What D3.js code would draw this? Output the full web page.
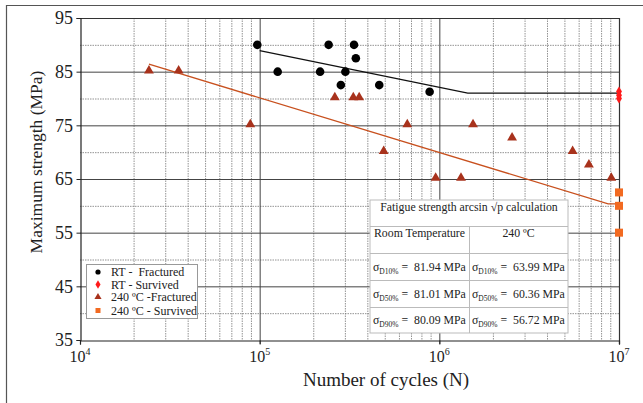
<!DOCTYPE html>
<html>
<head>
<meta charset="utf-8">
<script src="https://cdn.jsdelivr.net/npm/d3@7"></script>
<style>
  body { margin: 0; background: #fff; }
</style>
</head>
<body>
<div id="chart"></div>
<script>
// data
var rtFracN = [9.7e4, 2.42e5, 3.35e5, 3.43e5, 1.26e5, 2.17e5, 3.0e5, 2.83e5, 4.63e5, 8.83e5];
var rtFracS = [90, 90, 90, 87.5, 85, 85, 85, 82.5, 82.5, 81.25];
var rtSurvN = [1e7, 1e7, 1e7];
var rtSurvS = [81.3, 80.6, 80.0];
var htFracN = [2.42e4, 3.54e4, 8.87e4, 2.62e5, 3.32e5, 3.58e5, 6.63e5, 1.54e6, 2.54e6, 4.9e5, 5.52e6, 6.8e6, 9.54e5, 1.32e6, 9.06e6];
var htFracS = [85, 85, 75, 80, 80, 80, 75, 75, 72.5, 70, 70, 67.5, 65, 65, 65];
var htSurvN = [1e7, 1e7, 1e7];
var htSurvS = [62.5, 60, 55];

var rtFitN = [1e5, 1.44e6, 1e7];
var rtFitS = [88.9, 81.01, 81.01];
var htFitN = [2.42e4, 8.7e6, 1e7];
var htFitS = [86.4, 60.36, 60.36];

var yTicks = [35, 45, 55, 65, 75, 85, 95];
var yMinor = [40, 50, 60, 70, 80, 90];
var xDecades = [1e4, 1e5, 1e6, 1e7];
var xExp = ["4", "5", "6", "7"];

var legendLabels = ["RT -  Fractured", "RT - Survived", "240 \u00BAC -Fractured", "240 \u00BAC - Survived"];

var tableTitle = "Fatigue strength arcsin \u221Ap calculation";
var tableHeads = ["Room Temperature", "240 \u00BAC"];
var tableSubs = ["D10%", "D50%", "D90%"];
var tableRT = ["81.94", "81.01", "80.09"];
var tableHT = ["63.99", "60.36", "56.72"];

var W = 643, H = 403;
var serif = "Liberation Serif";
var ink = "#222";
var svg = d3.select("#chart").append("svg")
    .attr("width", W)
    .attr("height", H);

var x = d3.scaleLog().domain([1e4, 1e7]).range([80, 619]);
var y = d3.scaleLinear().domain([35, 95]).range([340, 18]);

// figure frame (top and left only)
svg.append("line").attr("x1", 6).attr("x2", W).attr("y1", 5.5).attr("y2", 5.5)
    .attr("stroke", "#555").attr("stroke-width", 1.2);
svg.append("line").attr("x1", 6.5).attr("x2", 6.5).attr("y1", 5).attr("y2", H)
    .attr("stroke", "#555").attr("stroke-width", 1.2);

var g = svg.append("g");

// minor vertical grid
var minorX = [];
[1e4, 1e5, 1e6].forEach(function(d) {
  for (var k = 2; k <= 9; k++) minorX.push(d * k);
});
g.selectAll(".vminor")
    .data(minorX)
  .enter().append("line")
    .attr("x1", function(d) { return x(d); })
    .attr("x2", function(d) { return x(d); })
    .attr("y1", y(95)).attr("y2", y(35))
    .attr("stroke", "#777")
    .attr("stroke-dasharray", "1.5,1")
    .attr("stroke-width", 0.8);

// dotted horizontal grid
g.selectAll(".hminor")
    .data(yMinor)
  .enter().append("line")
    .attr("x1", x(1e4)).attr("x2", x(1e7))
    .attr("y1", function(d) { return y(d) + 0.5; })
    .attr("y2", function(d) { return y(d) + 0.5; })
    .attr("stroke", "#777")
    .attr("stroke-dasharray", "1.5,1")
    .attr("stroke-width", 0.8);

// solid horizontal grid
g.selectAll(".hmajor")
    .data(yTicks.slice(1, 6))
  .enter().append("line")
    .attr("x1", x(1e4)).attr("x2", x(1e7))
    .attr("y1", function(d) { return y(d) + 0.5; })
    .attr("y2", function(d) { return y(d) + 0.5; })
    .attr("stroke", "#444")
    .attr("stroke-width", 1);

// solid vertical decades
g.selectAll(".vmajor")
    .data([1e5, 1e6])
  .enter().append("line")
    .attr("x1", function(d) { return x(d) + 0.5; })
    .attr("x2", function(d) { return x(d) + 0.5; })
    .attr("y1", y(95)).attr("y2", y(35) + 4)
    .attr("stroke", "#444")
    .attr("stroke-width", 1);

// plot frame
g.append("line").attr("x1", x(1e4)).attr("x2", x(1e7)).attr("y1", y(95) + 0.5).attr("y2", y(95) + 0.5)
    .attr("stroke", "#333").attr("stroke-width", 1.2);
g.append("line").attr("x1", x(1e7) + 0.5).attr("x2", x(1e7) + 0.5).attr("y1", y(95)).attr("y2", y(35) + 4)
    .attr("stroke", "#333").attr("stroke-width", 1.2);

// axes
var yAxis = d3.axisLeft(y).tickValues(yTicks).tickSize(4).tickFormat("");
g.append("g").attr("transform", "translate(" + (x(1e4) + 0.5) + ",0)").call(yAxis)
    .call(function(a) { a.select(".domain").attr("stroke", "#222").attr("stroke-width", 1.2); })
    .selectAll("line").attr("stroke", "#222");

var xAxis = d3.axisBottom(x).tickValues(xDecades).tickSize(4).tickFormat("");
g.append("g").attr("transform", "translate(0," + (y(35) + 0.5) + ")").call(xAxis)
    .call(function(a) { a.select(".domain").attr("stroke", "#222").attr("stroke-width", 1.2); })
    .selectAll("line").attr("stroke", "#222");

// y tick labels
g.selectAll(".ylab")
    .data(yTicks)
  .enter().append("text")
    .attr("font-family", serif).attr("fill", ink)
    .attr("x", 73)
    .attr("y", function(d) { return y(d); })
    .attr("dy", "0.35em")
    .attr("text-anchor", "end")
    .attr("font-size", "18px")
    .text(function(d) { return d; });

// x tick labels 10^n
var xl = g.selectAll(".xlab")
    .data(xDecades)
  .enter().append("text")
    .attr("font-family", serif).attr("fill", ink)
    .attr("x", function(d) { return x(d); })
    .attr("y", 362)
    .attr("text-anchor", "middle")
    .attr("font-size", "16px");
xl.append("tspan").text("10");
xl.append("tspan").attr("dy", -7).attr("font-size", "10px").text(function(d, i) { return xExp[i]; });

// axis titles
svg.append("text")
    .attr("font-family", serif).attr("fill", ink)
    .attr("transform", "translate(42,162) rotate(-90)")
    .attr("text-anchor", "middle")
    .attr("font-size", "17.5px")
    .text("Maximum strength (MPa)");
svg.append("text")
    .attr("font-family", serif).attr("fill", ink)
    .attr("x", 386).attr("y", 386)
    .attr("text-anchor", "middle")
    .attr("font-size", "19px")
    .text("Number of cycles (N)");

// fit lines
var line = d3.line()
    .x(function(d) { return x(d[0]); })
    .y(function(d) { return y(d[1]); });
g.append("path")
    .datum(d3.zip(rtFitN, rtFitS))
    .attr("d", line)
    .attr("fill", "none")
    .attr("stroke", "#111")
    .attr("stroke-width", 1.3);
g.append("path")
    .datum(d3.zip(htFitN, htFitS))
    .attr("d", line)
    .attr("fill", "none")
    .attr("stroke", "#c8501e")
    .attr("stroke-width", 1.3);

// table
var tx = 370, tw = 198, tcol = 469;
var rowY = [200, 226, 253, 280, 307, 333];
var tfs = "11.8px";
var tab = svg.append("g");
tab.append("rect")
    .attr("x", tx).attr("y", rowY[0])
    .attr("width", tw).attr("height", rowY[5] - rowY[0])
    .attr("fill", "#fff")
    .attr("stroke", "#bbb");
tab.selectAll(".rowline")
    .data(rowY.slice(1, 5))
  .enter().append("line")
    .attr("x1", tx).attr("x2", tx + tw)
    .attr("y1", function(d) { return d + 0.5; })
    .attr("y2", function(d) { return d + 0.5; })
    .attr("stroke", "#bbb");
tab.append("line")
    .attr("x1", tcol + 0.5).attr("x2", tcol + 0.5)
    .attr("y1", rowY[1]).attr("y2", rowY[5])
    .attr("stroke", "#bbb");
tab.append("text")
    .attr("font-family", serif).attr("fill", ink)
    .attr("x", tx + tw / 2).attr("y", 207)
    .attr("dy", "0.35em")
    .attr("text-anchor", "middle")
    .attr("font-size", tfs)
    .text(tableTitle);
tab.selectAll(".head")
    .data(tableHeads)
  .enter().append("text")
    .attr("font-family", serif).attr("fill", ink)
    .attr("x", function(d, i) { return i === 0 ? (tx + tcol) / 2 : (tcol + tx + tw) / 2; })
    .attr("y", 233)
    .attr("dy", "0.35em")
    .attr("text-anchor", "middle")
    .attr("font-size", tfs)
    .text(function(d) { return d; });

function sigmaCell(sel, xs, vals) {
  var t = sel.selectAll(null)
      .data(tableSubs)
    .enter().append("text")
      .attr("font-family", serif).attr("fill", ink)
      .attr("x", xs)
      .attr("y", function(d, i) { return (rowY[i + 2] + rowY[i + 3]) / 2; })
      .attr("dy", "0.35em")
      .attr("font-size", tfs)
      .style("white-space", "pre");
  t.append("tspan").text("\u03C3");
  t.append("tspan").attr("dy", 3).attr("font-size", "7.5px").text(function(d) { return d; });
  t.append("tspan").attr("dy", -3).text(function(d, i) { return " =  " + vals[i] + " MPa"; });
}
sigmaCell(tab, 373, tableRT);
sigmaCell(tab, 472, tableHT);

// markers
var mk = svg.append("g");
mk.selectAll(".rtf")
    .data(d3.zip(rtFracN, rtFracS))
  .enter().append("circle")
    .attr("cx", function(d) { return x(d[0]); })
    .attr("cy", function(d) { return y(d[1]); })
    .attr("r", 4.3)
    .attr("fill", "#000");

var tri = d3.symbol().type(d3.symbolTriangle).size(42);
mk.selectAll(".htf")
    .data(d3.zip(htFracN, htFracS))
  .enter().append("path")
    .attr("d", tri)
    .attr("transform", function(d) { return "translate(" + x(d[0]) + "," + (y(d[1]) - 1) + ")"; })
    .attr("fill", "#a8321c");

mk.selectAll(".hts")
    .data(d3.zip(htSurvN, htSurvS))
  .enter().append("rect")
    .attr("x", function(d) { return x(d[0]) - 4; })
    .attr("y", function(d) { return y(d[1]) - 4; })
    .attr("width", 8).attr("height", 8)
    .attr("fill", "#f26a21");

var dia = d3.symbol().type(d3.symbolDiamond).size(30);
mk.selectAll(".rts")
    .data(d3.zip(rtSurvN, rtSurvS))
  .enter().append("path")
    .attr("d", dia)
    .attr("transform", function(d) { return "translate(" + x(d[0]) + "," + y(d[1]) + ")"; })
    .attr("fill", "#ff1a1a");

// legend
var lg = svg.append("g");
lg.append("rect")
    .attr("x", 86.5).attr("y", 264.5)
    .attr("width", 111).attr("height", 54)
    .attr("fill", "#fff")
    .attr("stroke", "#999");
var legY = [272, 284.5, 297, 310.5];
lg.selectAll(".lt")
    .data(legendLabels)
  .enter().append("text")
    .attr("font-family", serif).attr("fill", ink)
    .attr("x", 111)
    .attr("y", function(d, i) { return legY[i]; })
    .attr("dy", "0.35em")
    .attr("font-size", "12px")
    .style("white-space", "pre")
    .text(function(d) { return d; });
lg.append("circle").attr("cx", 98).attr("cy", legY[0]).attr("r", 2.6).attr("fill", "#000");
lg.append("path").attr("d", d3.symbol().type(d3.symbolDiamond).size(22))
    .attr("transform", "translate(98," + legY[1] + ")").attr("fill", "#ff1a1a");
lg.append("path").attr("d", d3.symbol().type(d3.symbolTriangle).size(22))
    .attr("transform", "translate(98," + legY[2] + ")").attr("fill", "#a8321c");
lg.append("rect").attr("x", 95.5).attr("y", legY[3] - 2.5).attr("width", 5).attr("height", 5).attr("fill", "#f26a21");
</script>
</body>
</html>
